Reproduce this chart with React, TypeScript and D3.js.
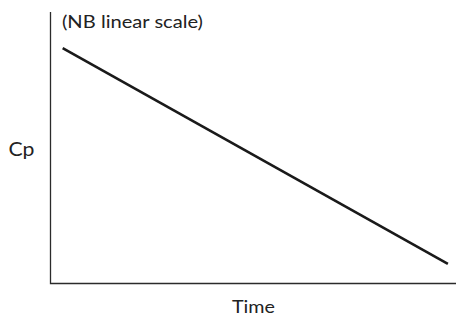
import React from "react";
import * as d3 from "d3";

// schematic: plasma concentration falling with time (linear scale)
const times = [3, 98];
const cpValues = [86.7, 7.2];
const axisLabels = { x: "Time", y: "Cp", note: "(NB linear scale)" };

const W = 458;
const H = 317;
const margin = { top: 12, right: 2, bottom: 33.5, left: 50.5 };

const App = () => {
  const innerW = W - margin.left - margin.right;
  const innerH = H - margin.top - margin.bottom;

  const x = d3.scaleLinear().domain([0, 100]).range([0, innerW]);
  const y = d3.scaleLinear().domain([0, 100]).range([innerH, 0]);

  const pts = times.map((t, i) => [t, cpValues[i]] as [number, number]);
  const line = d3
    .line<[number, number]>()
    .x((d) => x(d[0]))
    .y((d) => y(d[1]));

  const font = "Lato, 'DejaVu Sans', sans-serif";

  return (
    <svg
      width={W}
      height={H}
      style={{ position: "absolute", left: 0, top: 0, background: "#fff" }}
    >
      <g transform={`translate(${margin.left},${margin.top})`}>
        {/* axes */}
        <path
          d={`M0,0V${innerH}H${innerW}`}
          fill="none"
          stroke="#2b2b2b"
          strokeWidth={1.3}
        />
        <path d={line(pts) ?? ""} fill="none" stroke="#1a1a1a" strokeWidth={2.6} />
      </g>
      <text
        x={62}
        y={28}
        fontFamily={font}
        fontSize={17.5}
        fill="#222"
        textLength={141}
        lengthAdjust="spacingAndGlyphs"
      >
        {axisLabels.note}
      </text>
      <text
        x={8.5}
        y={156}
        fontFamily={font}
        fontSize={18.5}
        fill="#222"
        textLength={26}
        lengthAdjust="spacingAndGlyphs"
      >
        {axisLabels.y}
      </text>
      <text
        x={232}
        y={312.5}
        fontFamily={font}
        fontSize={17.5}
        fill="#222"
        textLength={43}
        lengthAdjust="spacingAndGlyphs"
      >
        {axisLabels.x}
      </text>
    </svg>
  );
};

export default App;
